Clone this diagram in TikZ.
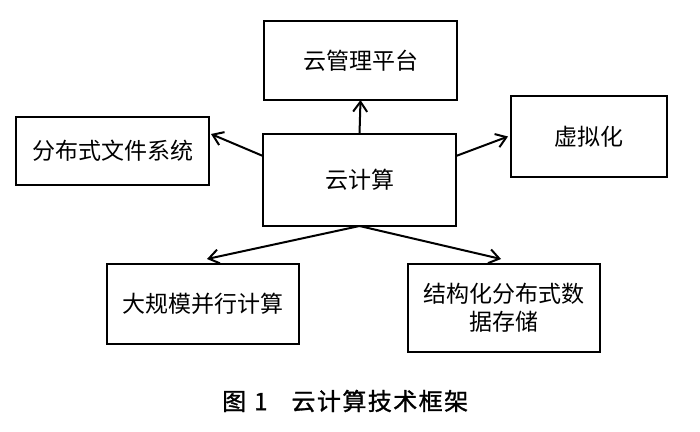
\documentclass[tikz,border=0pt]{standalone}
\usepackage{fontspec}
\newfontfamily\cjk{Noto Sans CJK SC}
\newfontfamily\cjkcap{Noto Sans CJK SC}[FakeBold=1.2]
\newfontfamily\cjkcapls{Noto Sans CJK SC}[FakeBold=1.2,LetterSpace=6]
\usepackage{tikz}
\usetikzlibrary{positioning,arrows.meta}

\begin{document}
\begin{tikzpicture}[
        x=1pt, y=1pt,
        box/.style={draw=black,line width=2pt,minimum width=193pt,align=center,
            inner sep=0pt,outer sep=0pt,font=\cjk\fontsize{23}{28}\selectfont},
        link/.style={draw=black,line width=2pt,-{Straight Barb[length=10pt,width=14pt]}}
    ]
        \useasboundingbox (0,0) rectangle (700,-431);
        \node[box,minimum height=92pt] (CC) at (359.5,-180) {云计算};
        \node[box,minimum height=79pt] (MP) [above = 34pt of CC, xshift=1pt] {云管理平台};
        \node[box,minimum height=68pt] (DFS) [left = 54pt of CC, yshift=29pt] {分布式文件系统};
        \node[box,minimum height=81pt,minimum width=156pt] (VI) [right = 55pt of CC, yshift=43.5pt] {虚拟化};
        \node[box,minimum height=80pt,minimum width=192pt] (PC) [below = 38pt of CC, xshift=-156.5pt] {大规模并行计算};
        \node[box,minimum height=88pt,minimum width=192pt] (DS) [below = 38pt of CC, xshift=144.5pt] {结构化分布式数\\据存储};
        \node[font=\fontsize{24}{28}\selectfont,anchor=west,inner sep=0pt] (CAP) at (222,-401)
            {{\cjkcap 图\hspace{8pt}1}\hspace{24pt}{\cjkcapls 云计算技术框架}};
        \path (CC.north) edge[link] (MP.south);
        \path ([yshift=24pt]CC.west) edge[link] ([xshift=2pt,yshift=17pt]DFS.east);
        \path ([yshift=24pt]CC.east) edge[link] ([xshift=-3pt]VI.west);
        \path (CC.south) edge[link] ([xshift=4pt,yshift=5pt]PC.north);
        \path (CC.south) edge[link] ([xshift=-3pt,yshift=5pt]DS.north);
    \end{tikzpicture}
\end{document}
